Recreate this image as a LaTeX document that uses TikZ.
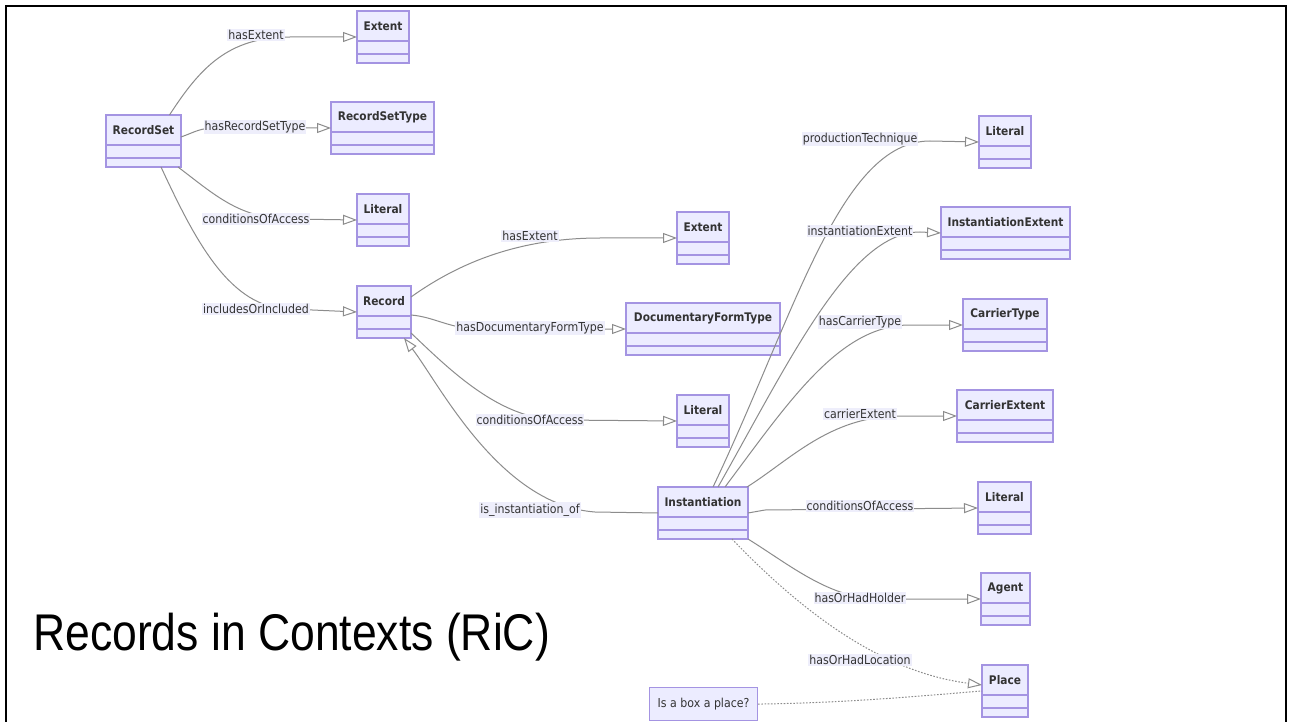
\documentclass[tikz,border=0pt]{standalone}
\usepackage{fontspec}
\setmainfont{DejaVu Sans}
\newfontfamily\headfont{Liberation Sans}
\usetikzlibrary{arrows.meta,calc}

\definecolor{boxfill}{HTML}{ECECFF}
\definecolor{boxline}{HTML}{A494E2}
\definecolor{edgeline}{HTML}{8C8C8C}
\definecolor{lblfill}{HTML}{EEEEFB}
\definecolor{txt}{HTML}{333333}

% slightly tall lettering
\newcommand{\tall}[1]{\scalebox{1}[1.12]{#1}}

\tikzset{
  classbox/.style={draw=boxline, fill=boxfill, line width=1.1pt, inner sep=0pt,
    outer sep=0pt, anchor=north west, minimum height=52pt},
  classname/.style={font=\fontsize{10.6}{12}\selectfont\bfseries, text=txt, inner sep=0pt},
  divider/.style={draw=boxline, line width=1.1pt},
  rel/.style={draw=edgeline, line width=1pt,
    -{Triangle[length=14pt,width=10pt,fill=white]}},
  dotrel/.style={draw=edgeline, line width=1pt, dash pattern=on 1.6pt off 1.6pt},
  rellabel/.style={fill=lblfill, text=txt, font=\fontsize{11}{13}\selectfont,
    inner xsep=1pt, inner ysep=1.5pt},
  notebox/.style={draw=boxline, fill=boxfill, line width=1.1pt, text=txt,
    font=\fontsize{11}{13}\selectfont, anchor=north west,
    minimum width=108pt, minimum height=33pt, inner sep=0pt},
}

% UML class: name, left x, top y, width, class name
\newcommand{\umlclass}[5]{%
  \node[classbox, minimum width=#4pt] (#1) at (#2,#3) {};
  \node[classname] (#1-name) at ($(#1.north)+(0,15)$) {\tall{#5}};
  \draw[divider] ($(#1.north west)+(0,30)$) -- ($(#1.north east)+(0,30)$);
  \draw[divider] ($(#1.north west)+(0,43)$) -- ($(#1.north east)+(0,43)$);
}

\begin{document}
\begin{tikzpicture}[x=1pt,y=-1pt]
\useasboundingbox (0,0) rectangle (1293,722);
\fill[white] (0,0) rectangle (1293,722);

% slide frame
\draw[black, line width=2.2pt] (6,722) -- (6,6) -- (1286,6) -- (1286,722);

% classes
\umlclass{extentA}{357}{11}{52}{Extent}
\umlclass{recordset}{106}{115}{75}{RecordSet}
\umlclass{recordsettype}{331}{102}{103}{RecordSetType}
\umlclass{literalA}{357}{194}{52}{Literal}
\umlclass{record}{357}{286}{54}{Record}
\umlclass{extentB}{677}{212}{52}{Extent}
\umlclass{docform}{626}{303}{154}{DocumentaryFormType}
\umlclass{literalB}{677}{395}{52}{Literal}
\umlclass{inst}{658}{487}{90}{Instantiation}
\umlclass{literalC}{979}{116}{52}{Literal}
\umlclass{instextent}{941}{207}{129}{InstantiationExtent}
\umlclass{carriertype}{963}{299}{84}{CarrierType}
\umlclass{carrierextent}{957}{390}{96}{CarrierExtent}
\umlclass{literalD}{978}{482}{53}{Literal}
\umlclass{agent}{981}{573}{49}{Agent}
\umlclass{place}{982}{665}{46}{Place}
\node[notebox] (note) at (649,687) {\tall{Is a box a place?}};

% relations from RecordSet
\draw[rel] ([xshift=26pt]recordset.north) .. controls (200,68) and (228,37) .. (290,37) -- (extentA.west);
\draw[rel] ([yshift=4pt]recordset.east) .. controls (195,132) and (200,128) .. (215,128) -- (recordsettype.west);
\draw[rel] ([xshift=-3pt]recordset.south east) .. controls (215,195) and (240,219) .. (290,219) -- (literalA.west);
\draw[rel] ([xshift=-20pt]recordset.south east) .. controls (195,240) and (230,309) .. (290,309) -- (record.west);

% relations from Record
\draw[rel] ([yshift=15pt]record.east) .. controls (460,262) and (520,238) .. (600,238) -- (extentB.west);
\draw[rel] ([yshift=-3pt]record.east) .. controls (435,317) and (450,329) .. (480,329) -- (docform.west);
\draw[rel] ([yshift=-21pt]record.east) .. controls (450,370) and (500,420) .. (560,420) -- (literalB.west);

% relations from Instantiation
\draw[rel] (inst.west) -- (595,512) .. controls (500,505) and (440,385) .. ([xshift=-7pt]record.south east);
\draw[rel] ([xshift=10pt]inst.north) .. controls (795,315) and (840,141) .. (930,141) -- (literalC.west);
\draw[rel] ([xshift=15pt]inst.north) .. controls (790,360) and (850,232) .. (920,232) -- (instextent.west);
\draw[rel] ([xshift=22pt]inst.north) .. controls (790,400) and (840,325) .. (910,325) -- (carriertype.west);
\draw[rel] ([xshift=-1pt]inst.north east) .. controls (790,460) and (830,416) .. (900,416) -- (carrierextent.west);
\draw[rel] (inst.east) -- (765,510) -- (literalD.west);
\draw[rel] (inst.south east) .. controls (790,565) and (830,599) .. (880,599) -- (agent.west);
\draw[rel, dash pattern=on 1.6pt off 1.6pt] ([xshift=29pt]inst.south) .. controls (800,610) and (880,672) .. ([yshift=6pt]place.west);
\draw[dotrel] (note.east) .. controls (850,703) and (930,695) .. (place.west);

% relation labels
\node[rellabel] (l1) at (256,35) {\tall{hasExtent}};
\node[rellabel] (l2) at (255,127) {\tall{hasRecordSetType}};
\node[rellabel] (l3) at (256,219) {\tall{conditionsOfAccess}};
\node[rellabel] (l4) at (256,309) {\tall{includesOrIncluded}};
\node[rellabel] (l5) at (530,236) {\tall{hasExtent}};
\node[rellabel] (l6) at (530,328) {\tall{hasDocumentaryFormType}};
\node[rellabel] (l7) at (530,420) {\tall{conditionsOfAccess}};
\node[rellabel] (l8) at (530,510) {\tall{is\_instantiation\_of}};
\node[rellabel] (l9) at (860,139) {\tall{productionTechnique}};
\node[rellabel] (l10) at (860,231) {\tall{instantiationExtent}};
\node[rellabel] (l11) at (860,322) {\tall{hasCarrierType}};
\node[rellabel] (l12) at (860,414) {\tall{carrierExtent}};
\node[rellabel] (l13) at (860,506) {\tall{conditionsOfAccess}};
\node[rellabel] (l14) at (860,598) {\tall{hasOrHadHolder}};
\node[rellabel] (l15) at (860,660) {\tall{hasOrHadLocation}};

% slide title
\node[anchor=base west, inner sep=0pt, font=\headfont\fontsize{44.5}{50}\selectfont]
  (title) at (33,650) {\scalebox{1}[1.16]{Records in Contexts (RiC)}};
\end{tikzpicture}
\end{document}
